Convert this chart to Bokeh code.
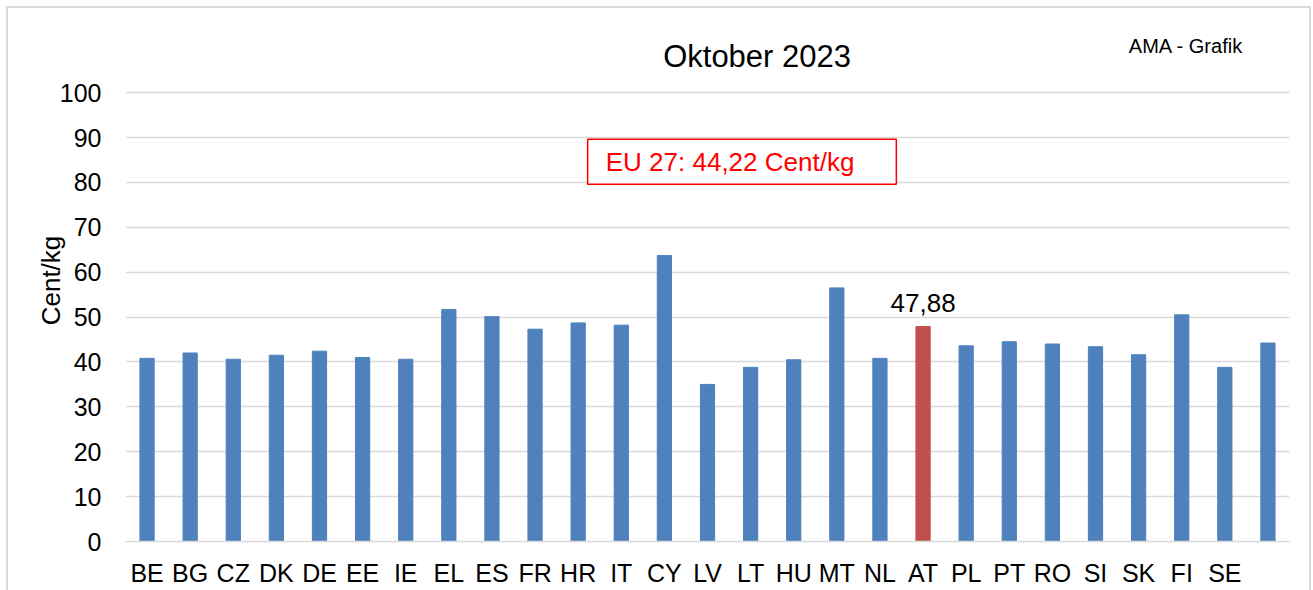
from bokeh.plotting import figure
from bokeh.embed import file_html
from bokeh.resources import INLINE
from bokeh.models import ColumnDataSource, FactorRange, Range1d, Label, BoxAnnotation, FixedTicker
from bokeh.core.properties import value

countries = ["BE", "BG", "CZ", "DK", "DE", "EE", "IE", "EL", "ES", "FR", "HR", "IT", "CY",
             "LV", "LT", "HU", "MT", "NL", "AT", "PL", "PT", "RO", "SI", "SK", "FI", "SE", " "]
prices = [40.8, 42.0, 40.6, 41.5, 42.4, 41.0, 40.6, 51.7, 50.1, 47.3, 48.7, 48.2, 63.7,
          35.0, 38.8, 40.5, 56.5, 40.8, 47.88, 43.6, 44.5, 44.0, 43.4, 41.6, 50.5, 38.8, 44.22]
highlight = "AT"
eu_avg = 44.22
title_text = "Oktober 2023"
source_text = "AMA - Grafik"
y_ticks = [0, 10, 20, 30, 40, 50, 60, 70, 80, 90, 100]

FONT = "Liberation Sans"
BLUE = "#4F81BD"
RED = "#C0504D"
GRID = "#d9d9d9"

colors = [RED if c == highlight else BLUE for c in countries]
src = ColumnDataSource(dict(x=countries, top=prices, color=colors))

p = figure(width=1305, height=584, output_backend="svg", toolbar_location=None,
           x_range=FactorRange(factors=countries, range_padding=0),
           y_range=Range1d(0, 116.3),
           min_border_left=117, min_border_right=24, min_border_top=11, min_border_bottom=51)
p.margin = (6, 0, 0, 6)
p.styles = {"border-left": "2px solid #d9d9d9", "border-top": "2px solid #d9d9d9",
            "border-right": "2px solid #d9d9d9"}
p.outline_line_color = None
p.background_fill_color = "white"
p.border_fill_color = "white"

p.vbar(x="x", top="top", width=0.33, source=src, fill_color="color", line_color="color")

# axes
p.xgrid.grid_line_color = None
p.ygrid.grid_line_color = GRID
p.ygrid.grid_line_width = 1.5
p.yaxis.ticker = FixedTicker(ticks=y_ticks)
p.ygrid.ticker = FixedTicker(ticks=y_ticks)
p.yaxis.axis_line_color = None
p.yaxis.major_tick_line_color = None
p.yaxis.minor_tick_line_color = None
p.yaxis.major_tick_out = 0
p.yaxis.major_label_standoff = 24
p.yaxis.major_label_text_font = FONT
p.yaxis.major_label_text_font_size = "25px"
p.yaxis.major_label_text_color = "black"
p.yaxis.axis_label = "Cent/kg"
p.yaxis.axis_label_text_font = FONT
p.yaxis.axis_label_text_font_size = "26px"
p.yaxis.axis_label_text_font_style = "normal"
p.yaxis.axis_label_text_color = "black"
p.yaxis.axis_label_standoff = -9

p.xaxis.axis_line_color = GRID
p.xaxis.axis_line_width = 1.5
p.xaxis.major_tick_line_color = None
p.xaxis.major_tick_out = 0
p.xaxis.major_label_standoff = 17
p.xaxis.major_label_text_font = FONT
p.xaxis.major_label_text_font_size = "25px"
p.xaxis.major_label_text_color = "black"

# value label for highlighted bar
hi = countries.index(highlight)
lab = ColumnDataSource(dict(x=[highlight], y=[prices[hi]], t=[f"{prices[hi]:.2f}".replace(".", ",")]))
p.text(x="x", y="y", text="t", source=lab, text_align="center", text_baseline="bottom",
       y_offset=-15, text_font=value(FONT), text_font_size="26px", text_color="black")

# title and source
p.add_layout(Label(x=14.65, y=108.0, text=title_text, text_align="center", text_baseline="middle",
                   text_font=FONT, text_font_size="31px", text_color="black"))
p.add_layout(Label(x=24.6, y=110.3, text=source_text, text_align="center", text_baseline="middle",
                   text_font=FONT, text_font_size="20px", text_color="black"))

# EU average box
p.add_layout(BoxAnnotation(left=10.72, right=17.88, bottom=79.6, top=89.6,
                           fill_color="white", fill_alpha=1, line_color="#FF0000",
                           line_alpha=1, line_width=1.5))
p.add_layout(Label(x=11.14, y=84.5, text=f"EU 27: {eu_avg:.2f}".replace(".", ",") + " Cent/kg",
                   text_align="left", text_baseline="middle",
                   text_font=FONT, text_font_size="26px", text_color="#FF0000"))

open("out.html", "w").write(file_html(p, INLINE))
